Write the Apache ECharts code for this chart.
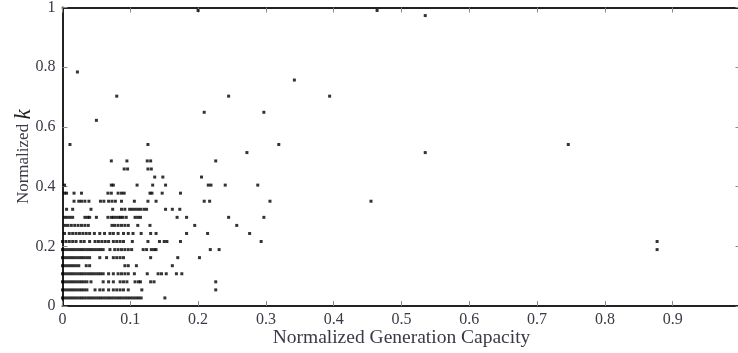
<!DOCTYPE html>
<html>
<head>
<meta charset="utf-8">
<script src="https://cdn.jsdelivr.net/npm/echarts@6/dist/echarts.min.js"></script>
<style>
  html, body { margin: 0; padding: 0; background: #fff; }
  #chart { width: 738px; height: 353px; }
</style>
</head>
<body>
<div id="chart"></div>
<script>
// Normalized k values take discrete levels (steps of about 1/37).
// Each level has its own list of normalized generation capacities.
const row01X = [0.000,0.004,0.008,0.012,0.016,0.020,0.024,0.028,0.032,0.036,0.040,0.044,0.048,0.052,0.056,0.060,0.064,0.068,0.072,0.076,0.080,0.084,0.088,0.092,0.096,0.100,0.104,0.108,0.112,0.116,0.151];
const row02X = [0.000,0.004,0.008,0.012,0.016,0.020,0.024,0.028,0.032,0.036,0.048,0.055,0.060,0.068,0.075,0.080,0.085,0.090,0.097,0.117,0.226];
const row03X = [0.000,0.004,0.008,0.012,0.016,0.020,0.024,0.028,0.032,0.036,0.042,0.060,0.068,0.075,0.085,0.090,0.095,0.107,0.112,0.115,0.130,0.135,0.226];
const row04X = [0.000,0.004,0.008,0.012,0.016,0.020,0.024,0.028,0.032,0.036,0.040,0.044,0.048,0.052,0.056,0.060,0.068,0.075,0.082,0.087,0.092,0.097,0.106,0.125,0.141,0.146,0.153,0.168,0.176];
const row05X = [0.000,0.004,0.008,0.012,0.016,0.020,0.024,0.035,0.040,0.092,0.097,0.109,0.162];
const row06X = [0.000,0.004,0.008,0.012,0.016,0.020,0.024,0.028,0.032,0.036,0.040,0.055,0.065,0.075,0.080,0.085,0.090,0.130,0.170,0.202];
const row07X = [0.000,0.004,0.008,0.012,0.016,0.020,0.024,0.028,0.032,0.036,0.040,0.044,0.048,0.052,0.056,0.060,0.070,0.077,0.082,0.087,0.092,0.097,0.102,0.119,0.124,0.131,0.135,0.138,0.218,0.231,0.877];
const row08X = [0.000,0.005,0.010,0.015,0.020,0.027,0.032,0.040,0.048,0.053,0.058,0.063,0.068,0.075,0.080,0.085,0.090,0.103,0.126,0.143,0.150,0.154,0.174,0.293,0.877];
const row09X = [0.003,0.010,0.015,0.020,0.025,0.030,0.035,0.040,0.047,0.055,0.062,0.070,0.075,0.082,0.090,0.097,0.104,0.116,0.130,0.138,0.183,0.214,0.276];
const row10X = [0.004,0.008,0.013,0.018,0.023,0.028,0.033,0.038,0.073,0.077,0.082,0.087,0.092,0.097,0.111,0.129,0.195,0.257];
const row11X = [0.003,0.007,0.011,0.015,0.033,0.037,0.040,0.050,0.067,0.072,0.075,0.079,0.083,0.086,0.089,0.094,0.107,0.111,0.115,0.169,0.183,0.245,0.297];
const row12X = [0.006,0.015,0.042,0.074,0.087,0.092,0.099,0.103,0.107,0.111,0.115,0.120,0.124,0.152,0.162,0.173];
const row13X = [0.017,0.024,0.028,0.033,0.039,0.056,0.061,0.068,0.073,0.078,0.087,0.106,0.126,0.138,0.209,0.217,0.306,0.455];
const row14X = [0.003,0.006,0.017,0.028,0.067,0.072,0.082,0.087,0.091,0.129,0.132,0.147,0.174];
const row15X = [0.003,0.072,0.075,0.110,0.133,0.152,0.215,0.219,0.240,0.288];
const row16X = [0.136,0.148,0.205];
const row17X = [0.091,0.096,0.126,0.131];
const row18X = [0.072,0.095,0.125,0.130,0.226];
const row19X = [0.272,0.535];
const row20X = [0.011,0.126,0.319,0.746];
const row23X = [0.050];
const row24X = [0.209,0.297];
const row26X = [0.080,0.245,0.394];
const row28X = [0.342];
const row29X = [0.022];
const row36X = [0.535];
const rowTopX = [0.200,0.464];

const kLevels = [0.027,0.054,0.081,0.108,0.135,0.162,0.189,0.216,0.243,0.270,0.297,0.324,0.351,0.378,0.405,0.432,0.459,0.486,0.514,0.541,0.622,0.649,0.703,0.757,0.784,0.973,0.990];
const levelRows = [row01X,row02X,row03X,row04X,row05X,row06X,row07X,row08X,row09X,row10X,row11X,row12X,row13X,row14X,row15X,row16X,row17X,row18X,row19X,row20X,row23X,row24X,row26X,row28X,row29X,row36X,rowTopX];

const xTicks = [0,0.1,0.2,0.3,0.4,0.5,0.6,0.7,0.8,0.9];
const yTicks = [0,0.2,0.4,0.6,0.8,1];

const points = [];
levelRows.forEach((xs, i) => xs.forEach(x => points.push([x, kLevels[i]])));

const serif = 'Liberation Serif';
const labelColor = '#3a3a46';
const frame = { show: true, onZero: false, lineStyle: { color: '#222', width: 2 } };
const ticksIn = { show: true, inside: true, length: 5, lineStyle: { color: '#888', width: 1 } };
const fmt = v => {
  const r = Math.round(v * 10) / 10;
  return r === 0 ? '0' : (r === 1 ? '1' : r.toFixed(1));
};

const chart = echarts.init(document.getElementById('chart'), null, { renderer: 'canvas' });
chart.setOption({
  animation: false,
  backgroundColor: '#fff',
  grid: { left: 62.5, right: -2.5, top: 7.5, bottom: 47, containLabel: false, outerBoundsMode: 'none' },
  xAxis: [
    {
      type: 'value', min: 0, max: 1, interval: 0.1, position: 'bottom',
      axisLine: frame, axisTick: ticksIn, splitLine: { show: false },
      axisLabel: {
        color: labelColor, fontFamily: serif, fontSize: 16, margin: 6,
        showMaxLabel: false,
        formatter: v => (xTicks.some(t => Math.abs(t - v) < 1e-6) ? fmt(v) : '')
      },
      name: 'Normalized Generation Capacity', nameLocation: 'middle', nameGap: 22,
      nameMoveOverlap: false,
      nameTextStyle: { color: labelColor, fontFamily: serif, fontSize: 19.5 }
    },
    {
      type: 'value', min: 0, max: 1, interval: 0.1, position: 'top',
      axisLine: frame, axisTick: ticksIn, axisLabel: { show: false }, splitLine: { show: false }
    }
  ],
  yAxis: [
    {
      type: 'value', min: 0, max: 1, interval: 0.2, position: 'left',
      axisLine: frame, axisTick: ticksIn, splitLine: { show: false },
      axisLabel: {
        color: labelColor, fontFamily: serif, fontSize: 16, margin: 7,
        formatter: v => (yTicks.some(t => Math.abs(t - v) < 1e-6) ? fmt(v) : '')
      },
      name: '{n|Normalized }{k|k}', nameLocation: 'middle', nameGap: 27, nameRotate: 90,
      nameMoveOverlap: false,
      nameTextStyle: {
        rich: {
          n: { color: labelColor, fontFamily: serif, fontSize: 17 },
          k: { color: '#222', fontFamily: serif, fontStyle: 'italic', fontSize: 23 }
        }
      }
    },
    {
      type: 'value', min: 0, max: 1, interval: 0.2, position: 'right',
      axisLine: frame, axisTick: ticksIn, axisLabel: { show: false }, splitLine: { show: false }
    }
  ],
  series: [
    {
      type: 'scatter',
      data: points,
      symbol: 'rect',
      symbolSize: 3,
      itemStyle: { color: '#000' },
      silent: true
    }
  ]
});
</script>
</body>
</html>
